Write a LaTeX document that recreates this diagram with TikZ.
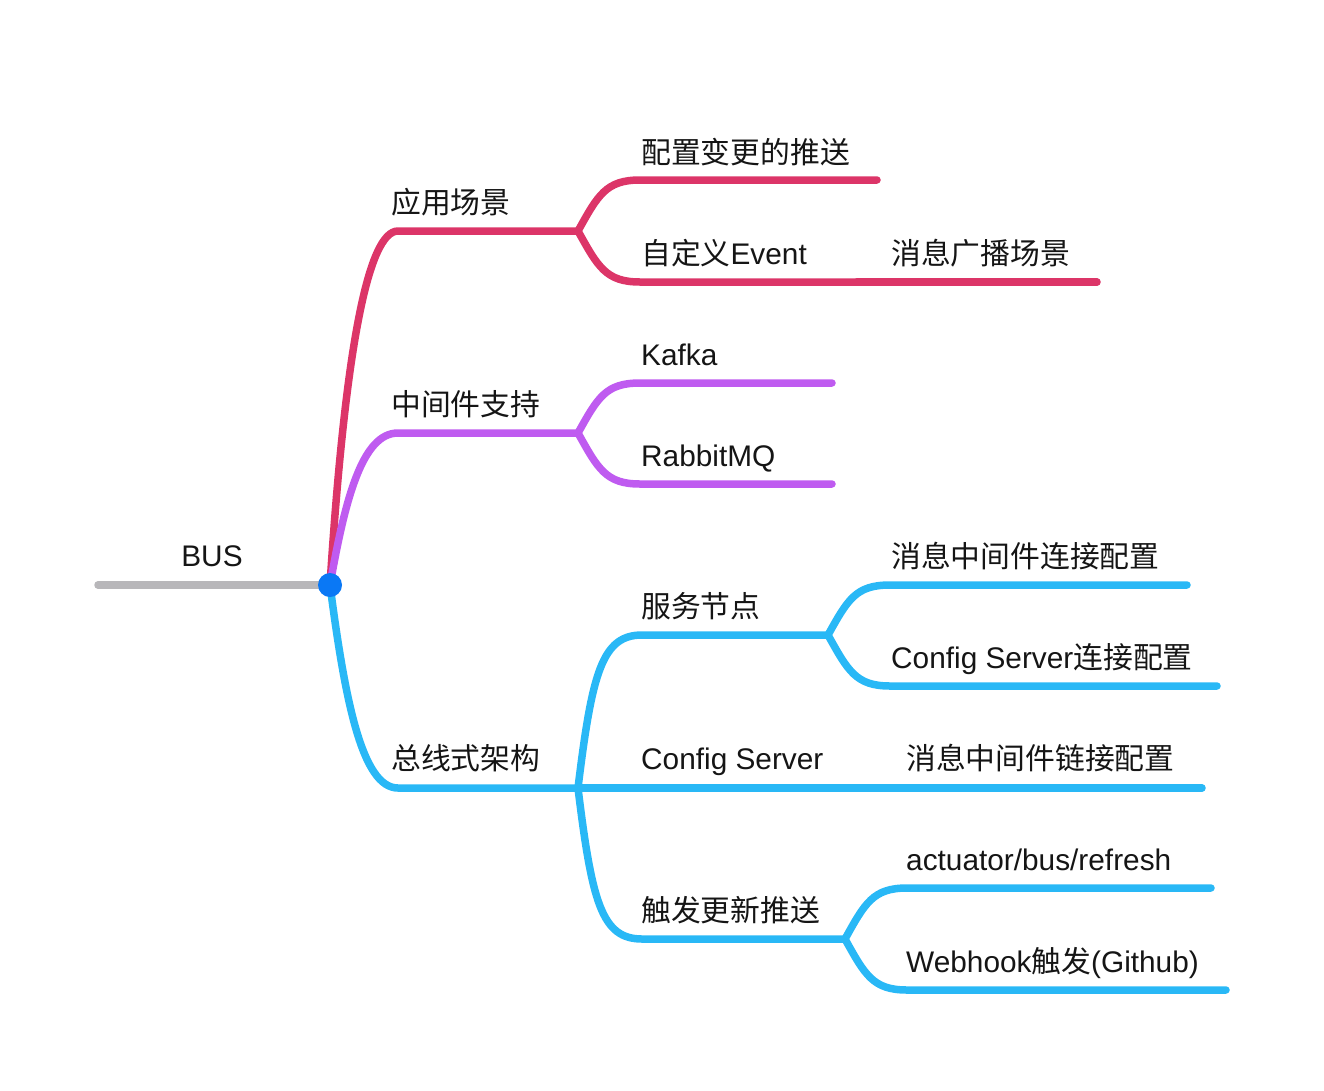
\documentclass[tikz,border=0pt]{standalone}
\usepackage{fontspec}
\setmainfont{Liberation Sans}
\newfontfamily\cjk{Noto Sans CJK SC}
\definecolor{cR}{HTML}{DC3568}
\definecolor{cP}{HTML}{BF5BF0}
\definecolor{cB}{HTML}{29B8F6}
\definecolor{cG}{HTML}{B8B7BA}
\definecolor{cD}{HTML}{0A78F5}
\definecolor{txt}{HTML}{151515}
\begin{document}
\begin{tikzpicture}[x=1pt,y=-1pt,
  br/.style={line width=7.5pt, line cap=round},
  lbl/.style={anchor=base west, inner sep=0pt, font=\fontsize{29.8}{34}\selectfont, text=txt},
]
\useasboundingbox (0,0) rectangle (1324,1090);
% coordinates
\coordinate (gstart) at (98,585);
\coordinate (root) at (330,585);
% branch 1
\coordinate (b1s) at (398,231);
\coordinate (b1j) at (578,231);
\coordinate (b11s) at (640,180);
\coordinate (b11e) at (877,180);
\coordinate (b12s) at (640,282);
\coordinate (b12e) at (857,282);
\coordinate (b121e) at (1097,282);
% branch 2
\coordinate (b2s) at (398,433);
\coordinate (b2j) at (578,433);
\coordinate (b21s) at (640,383);
\coordinate (b21e) at (832,383);
\coordinate (b22s) at (640,484);
\coordinate (b22e) at (832,484);
% branch 3
\coordinate (b3s) at (398,788);
\coordinate (b3j) at (578,788);
\coordinate (b31s) at (642,635);
\coordinate (b31j) at (828,635);
\coordinate (b311s) at (890,585);
\coordinate (b311e) at (1187,585);
\coordinate (b312s) at (890,686);
\coordinate (b312e) at (1217,686);
\coordinate (b32e) at (860,788);
\coordinate (b321e) at (1202,788);
\coordinate (b33s) at (642,939);
\coordinate (b33j) at (845,939);
\coordinate (b331s) at (907,888);
\coordinate (b331e) at (1211,888);
\coordinate (b332s) at (907,990);
\coordinate (b332e) at (1226,990);

% gray root line
\draw[br, cG] (gstart) -- (root);

% branch 1 (crimson)
\draw[br, cR] (root) .. controls (345,350) and (368,231) .. (b1s) -- (b1j);
\draw[br, cR] (b1j) .. controls +(20,-36) and +(-34,0) .. (b11s) -- (b11e);
\draw[br, cR] (b1j) .. controls +(20,36) and +(-34,0) .. (b12s) -- (b12e);
\draw[br, cR] (b12e) -- (b121e);

% branch 2 (purple)
\draw[br, cP] (root) .. controls (345,500) and (362,433) .. (b2s) -- (b2j);
\draw[br, cP] (b2j) .. controls +(20,-36) and +(-34,0) .. (b21s) -- (b21e);
\draw[br, cP] (b2j) .. controls +(20,36) and +(-34,0) .. (b22s) -- (b22e);

% branch 3 (blue)
\draw[br, cB] (root) .. controls (345,700) and (362,788) .. (b3s) -- (b3j);
\draw[br, cB] (b3j) .. controls +(14,-115) and +(-40,0) .. (b31s) -- (b31j);
\draw[br, cB] (b31j) .. controls +(20,-36) and +(-34,0) .. (b311s) -- (b311e);
\draw[br, cB] (b31j) .. controls +(20,36) and +(-34,0) .. (b312s) -- (b312e);
\draw[br, cB] (b3j) -- (b32e);
\draw[br, cB] (b32e) -- (b321e);
\draw[br, cB] (b3j) .. controls +(14,115) and +(-40,0) .. (b33s) -- (b33j);
\draw[br, cB] (b33j) .. controls +(20,-36) and +(-34,0) .. (b331s) -- (b331e);
\draw[br, cB] (b33j) .. controls +(20,36) and +(-34,0) .. (b332s) -- (b332e);

% root dot
\fill[cD] (root) circle[radius=12];

% labels
\node[lbl, anchor=base] (tBUS) at (212,566) {BUS};
\node[lbl] (t1) at (391,213) {\cjk 应用场景};
\node[lbl] (t11) at (641,163) {\cjk 配置变更的推送};
\node[lbl] (t12) at (641,264) {{\cjk 自定义}Event};
\node[lbl] (t121) at (891,264) {\cjk 消息广播场景};
\node[lbl] (t2) at (391,415) {\cjk 中间件支持};
\node[lbl] (t21) at (641,365) {Kafka};
\node[lbl] (t22) at (641,466) {RabbitMQ};
\node[lbl] (t3) at (391,769) {\cjk 总线式架构};
\node[lbl] (t31) at (641,617) {\cjk 服务节点};
\node[lbl] (t311) at (891,567) {\cjk 消息中间件连接配置};
\node[lbl] (t312) at (891,668) {Config Server{\cjk 连接配置}};
\node[lbl] (t32) at (641,769) {Config Server};
\node[lbl] (t321) at (906,769) {\cjk 消息中间件链接配置};
\node[lbl] (t33) at (641,921) {\cjk 触发更新推送};
\node[lbl] (t331) at (906,870) {actuator/bus/refresh};
\node[lbl] (t332) at (906,972) {Webhook{\cjk 触发}(Github)};
\end{tikzpicture}
\end{document}
